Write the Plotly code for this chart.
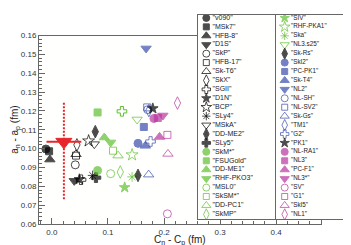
import plotly.graph_objects as go

# ---------------- data ----------------
models = ["v090", "MSk7", "HFB-8", "D1S", "SkP", "HFB-17", "Sk-T6", "SkX", "SGII",
          "D1N", "BCP", "SLy4", "MSkA", "DD-ME2", "SLy5", "SkM*", "FSUGold", "DD-ME1",
          "RHF-PKO3", "MSL0", "SkSM*", "DD-PC1", "SkMP",
          "SIV", "RHF-PKA1", "Ska", "NL3.s25", "Sk-Rs", "SkI2", "PC-PK1", "Sk-T4", "NL2",
          "NL-SH", "NL-SV2", "Sk-Gs", "TM1", "G2", "PK1", "NL-RA1", "NL3", "PC-F1",
          "NL3*", "SV", "G1", "SkI5", "NL1"]
cn_cp = [-0.0107, -0.0050, -0.0036, 0.0399, 0.0417, 0.0430, 0.0430, 0.0446, 0.0520,
         0.0490, 0.0655, 0.0726, 0.0756, 0.0774, 0.0786, 0.0815, 0.0815, 0.0935,
         0.1048, 0.1048, 0.1090, 0.1180, 0.1220,
         0.1298, 0.1430, 0.1430, 0.1520, 0.1536, 0.1536, 0.1640, 0.1667, 0.1680,
         0.1710, 0.1700, 0.1726, 0.1730, 0.1760, 0.1800, 0.1820, 0.1890, 0.1920,
         0.1980, 0.2060, 0.2060, 0.2070, 0.2240]
an_ap = [0.0998, 0.0986, 0.0942, 0.0829, 0.0914, 0.0963, 0.0970, 0.1020, 0.0835,
         0.0837, 0.1041, 0.0858, 0.1024, 0.1090, 0.0846, 0.0884, 0.1192, 0.1059,
         0.1033, 0.0867, 0.0989, 0.0963, 0.0876,
         0.0794, 0.0967, 0.0850, 0.1155, 0.0858, 0.1028, 0.1115, 0.1015, 0.1532,
         0.1207, 0.1219, 0.0862, 0.1202, 0.1038, 0.1213, 0.1160, 0.1163, 0.1062,
         0.1176, 0.0654, 0.1073, 0.0972, 0.1242]

# unlabelled extra point (green open cross)
extra_x = [0.125]
extra_y = [0.1198]

# experimental point (red)
exp_x = [0.0214]
exp_y = [0.1036]
exp_xerr = [0.031]
exp_yerr_plus = [0.0208]
exp_yerr_minus = [0.031]

x_ticks = [0.0, 0.1, 0.2, 0.3, 0.4]
y_ticks = [0.06, 0.07, 0.08, 0.09, 0.10, 0.11, 0.12, 0.13, 0.14, 0.15, 0.16]

# ---------------- styles ----------------
BLK, GRN, BLU, MAG, RED = "#000000", "#5fbf30", "#3b4cad", "#b8369e", "#e8262a"
seq15 = ["circle", "square", "triangle-up", "triangle-down", "circle-open", "square-open",
         "triangle-up-open", "diamond-tall-open", "cross-open", "star", "star-open",
         "asterisk-open", "triangle-down-open", "diamond-tall", "cross"]
symbols = (seq15
           + ["circle", "square", "triangle-up", "triangle-down", "circle-open", "square-open",
              "triangle-up-open", "diamond-tall-open", "star", "star-open", "asterisk-open",
              "triangle-down-open", "diamond-tall"]
           + ["circle", "square", "triangle-up", "triangle-down", "circle-open", "square-open",
              "triangle-up-open", "diamond-tall-open", "cross-open", "star"]
           + ["circle", "square", "triangle-up", "triangle-down", "circle-open", "square-open",
              "triangle-up-open", "diamond-tall-open"])
colors = [BLK] * 15 + [GRN] * 12 + [BLK] + [BLU] * 9 + [BLK] + [MAG] * 8
size_of = {"circle": 8, "square": 7, "triangle-up": 9, "triangle-down": 9, "circle-open": 8,
           "square-open": 7, "triangle-up-open": 9, "triangle-down-open": 9,
           "diamond-tall-open": 9, "diamond-tall": 9, "cross-open": 8, "cross": 8,
           "star": 8, "star-open": 9, "asterisk-open": 8}
sizes = [size_of[s] for s in symbols]

FONT = "Liberation Sans, Arial, sans-serif"
AX = "#666666"

fig = go.Figure()

# main points
fig.add_trace(go.Scatter(
    x=cn_cp, y=an_ap, mode="markers", showlegend=False, hoverinfo="text", text=models,
    marker=dict(symbol=symbols, color=colors, size=sizes, line=dict(color=colors, width=1)),
))
fig.add_trace(go.Scatter(
    x=extra_x, y=extra_y, mode="markers", showlegend=False,
    marker=dict(symbol="cross-open", color=GRN, size=8, line=dict(color=GRN, width=1)),
))

# experiment: dotted vertical error, solid horizontal error
fig.add_trace(go.Scatter(
    x=[exp_x[0], exp_x[0]],
    y=[exp_y[0] + exp_yerr_plus[0], exp_y[0] - exp_yerr_minus[0]],
    mode="lines", showlegend=False, line=dict(color=RED, width=2, dash="2px,1.5px"),
))
fig.add_trace(go.Scatter(
    x=exp_x, y=exp_y, mode="markers", showlegend=False,
    error_x=dict(type="data", array=exp_xerr, color=RED, thickness=2, width=0),
    marker=dict(symbol="triangle-down", color=RED, size=14, line=dict(color=RED, width=1)),
))

# legend panel (separate inset axes)
n_per_col = 23
col_marker_x = [8.3, 86.7]
col_text_x = [14.5, 93.0]
leg_mx = [col_marker_x[i // n_per_col] for i in range(len(models))]
leg_tx = [col_text_x[i // n_per_col] for i in range(len(models))]
leg_y = [i % n_per_col for i in range(len(models))]
leg_sizes = [s - 1 for s in sizes]

fig.add_trace(go.Scatter(
    x=leg_mx, y=leg_y, xaxis="x2", yaxis="y2", mode="markers", showlegend=False,
    hoverinfo="skip",
    marker=dict(symbol=symbols, color=colors, size=leg_sizes, line=dict(color=colors, width=1)),
))
fig.add_trace(go.Scatter(
    x=leg_tx[:n_per_col], y=leg_y[:n_per_col], xaxis="x2", yaxis="y2", mode="text",
    text=['"%s"' % m for m in models[:n_per_col]], textposition="middle right",
    textfont=dict(family=FONT, size=7, color="#222222"), showlegend=False, hoverinfo="skip",
))
fig.add_trace(go.Scatter(
    x=leg_tx[n_per_col:], y=leg_y[n_per_col:], xaxis="x2", yaxis="y2", mode="text",
    text=['"%s"' % m for m in models[n_per_col:]], textposition="middle right",
    textfont=dict(family=FONT, size=6.3, color="#222222"), showlegend=False, hoverinfo="skip",
))

W, H = 351, 245
ml, mr, mt, mb = 31, 5, 3, 29
pw, ph = W - ml - mr, H - mt - mb

def px_x(p):
    return (p - ml) / pw

def px_y(p):
    return (H - mb - p) / ph

fig.update_layout(
    width=W, height=H,
    margin=dict(l=ml, r=mr, t=mt, b=mb),
    paper_bgcolor="#ffffff", plot_bgcolor="#fffffe",
    font=dict(family=FONT, size=8, color="#333333"),
    xaxis=dict(
        domain=[0, px_x(313)], range=[-0.023, 0.48], tickvals=x_ticks, tickformat=".1f",
        ticks="inside", ticklen=6, tickcolor=AX, showline=True, linecolor=AX, linewidth=1,
        mirror=True, showgrid=False, zeroline=False,
        minor=dict(ticks="inside", ticklen=3, dtick=0.02, tick0=0, tickcolor=AX),
        tickfont=dict(size=8, color="#333333"),
    ),
    yaxis=dict(
        domain=[0, px_y(24)], range=[0.06, 0.16], tickvals=y_ticks, tickformat=".2f",
        ticks="inside", ticklen=6, tickcolor=AX, showline=True, linecolor=AX, linewidth=1,
        mirror=True, showgrid=False, zeroline=False,
        minor=dict(ticks="inside", ticklen=3, dtick=0.002, tick0=0.06, tickcolor=AX),
        tickfont=dict(size=8, color="#333333"),
    ),
    xaxis2=dict(
        domain=[px_x(190), 1.0], range=[0, 156], anchor="y2", showline=True, mirror=True,
        linecolor=AX, linewidth=1, showgrid=False, zeroline=False, showticklabels=False,
        ticks="",
    ),
    yaxis2=dict(
        domain=[px_y(211), 1.0], range=[22.53, -0.33], anchor="x2", showline=True,
        mirror=True, linecolor=AX, linewidth=1, showgrid=False, zeroline=False,
        showticklabels=False, ticks="",
    ),
    shapes=[dict(type="line", xref="x2", yref="y2 domain", x0=77.5, x1=77.5, y0=0, y1=1,
                 line=dict(color=AX, width=1))],
    annotations=[
        dict(text="C<sub>n</sub> - C<sub>p</sub> (fm)", xref="paper", yref="paper",
             x=px_x(172), y=px_y(225), xanchor="center", yanchor="top", showarrow=False,
             font=dict(size=10, color="#222222"), borderpad=0),
        dict(text="a<sub>n</sub> - a<sub>p</sub> (fm)", xref="paper", yref="paper",
             x=px_x(8), y=px_y(120), xanchor="center", yanchor="middle", showarrow=False,
             textangle=-90, font=dict(size=10, color="#222222"), borderpad=0),
    ],
    showlegend=False,
)

fig.write_html("out.html")
